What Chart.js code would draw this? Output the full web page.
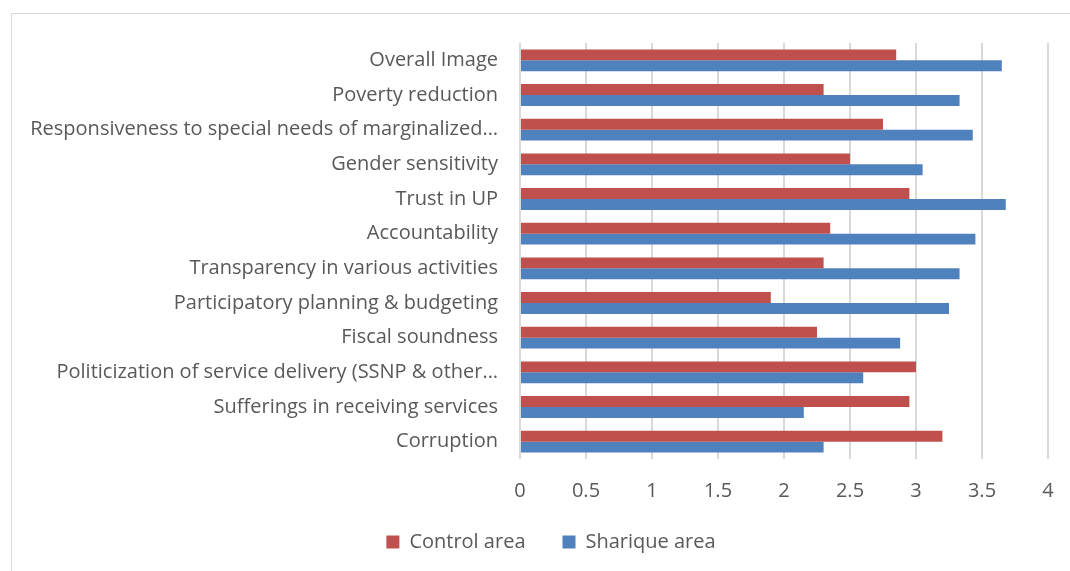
<!DOCTYPE html>
<html>
<head>
<meta charset="utf-8">
<script src="https://cdn.jsdelivr.net/npm/chart.js@4.4.1/dist/chart.umd.min.js"></script>
<style>
  html, body { margin: 0; padding: 0; background: #ffffff; }
  #wrap { position: relative; width: 1070px; height: 571px; overflow: hidden; }
  #frame { position: absolute; left: 11px; top: 13px; width: 1080px; height: 580px; border: 1px solid #d9d9d9; box-sizing: border-box; }
  canvas { position: absolute; left: 0; top: 0; }
</style>
</head>
<body>
<div id="wrap">
  <div id="frame"></div>
  <canvas id="c" width="1070" height="571"></canvas>
</div>
<script>
const categories = [
  "Overall Image",
  "Poverty reduction",
  "Responsiveness to special needs of marginalized\u2026",
  "Gender sensitivity",
  "Trust in UP",
  "Accountability",
  "Transparency in various activities",
  "Participatory planning & budgeting",
  "Fiscal soundness",
  "Politicization of service delivery (SSNP & other\u2026",
  "Sufferings in receiving services",
  "Corruption"
];
const controlArea = [2.85, 2.30, 2.75, 2.50, 2.95, 2.35, 2.30, 1.90, 2.25, 3.00, 2.95, 3.20];
const shariqueArea = [3.65, 3.33, 3.43, 3.05, 3.68, 3.45, 3.33, 3.25, 2.88, 2.60, 2.15, 2.30];
const xTicks = [0, 0.5, 1, 1.5, 2, 2.5, 3, 3.5, 4];

const FONT = "'Open Sans', Lato, sans-serif";
const TXT = "#595959";

// Shift the library-drawn legend so it sits centred in the outer frame, as in the reference.
const legendShift = {
  id: "legendShift",
  afterInit(chart) {
    const lg = chart.legend;
    if (!lg || lg._shifted) return;
    const orig = lg.draw.bind(lg);
    lg.draw = function () {
      const ctx = this.ctx;
      ctx.save();
      ctx.translate(27, -13);
      orig();
      ctx.restore();
    };
    lg._shifted = true;
  }
};

new Chart(document.getElementById("c"), {
  type: "bar",
  data: {
    labels: categories,
    datasets: [
      { label: "Control area", data: controlArea, backgroundColor: "#C0504D", borderWidth: 0,
        categoryPercentage: 0.63, barPercentage: 1.0 },
      { label: "Sharique area", data: shariqueArea, backgroundColor: "#4F81BD", borderWidth: 0,
        categoryPercentage: 0.63, barPercentage: 1.0 }
    ]
  },
  plugins: [legendShift],
  options: {
    indexAxis: "y",
    responsive: false,
    animation: false,
    devicePixelRatio: 1,
    layout: { padding: { left: 0, right: 22, top: 43, bottom: 0 } },
    plugins: {
      legend: {
        position: "bottom",
        maxHeight: 63,
        labels: {
          font: { family: FONT, size: 20 },
          color: TXT,
          boxWidth: 13,
          boxHeight: 13,
          padding: 37
        }
      },
      tooltip: { enabled: false },
      title: { display: false }
    },
    scales: {
      x: {
        min: 0, max: 4,
        afterBuildTicks: (s) => { s.ticks = xTicks.map(v => ({ value: v })); },
        afterFit: (s) => { s.height = 49; s.paddingLeft = 0; s.paddingRight = 0; },
        grid: { color: "#d9d9d9", lineWidth: 2, drawTicks: false },
        border: { display: false },
        ticks: { font: { family: FONT, size: 20 }, color: TXT, padding: 20,
                 callback: (v) => String(v) }
      },
      y: {
        afterFit: (s) => { s.width = 520; },
        grid: { display: false },
        border: { display: false },
        ticks: { font: { family: FONT, size: 20 }, color: TXT, padding: 14, autoSkip: false }
      }
    }
  }
});
</script>
</body>
</html>
